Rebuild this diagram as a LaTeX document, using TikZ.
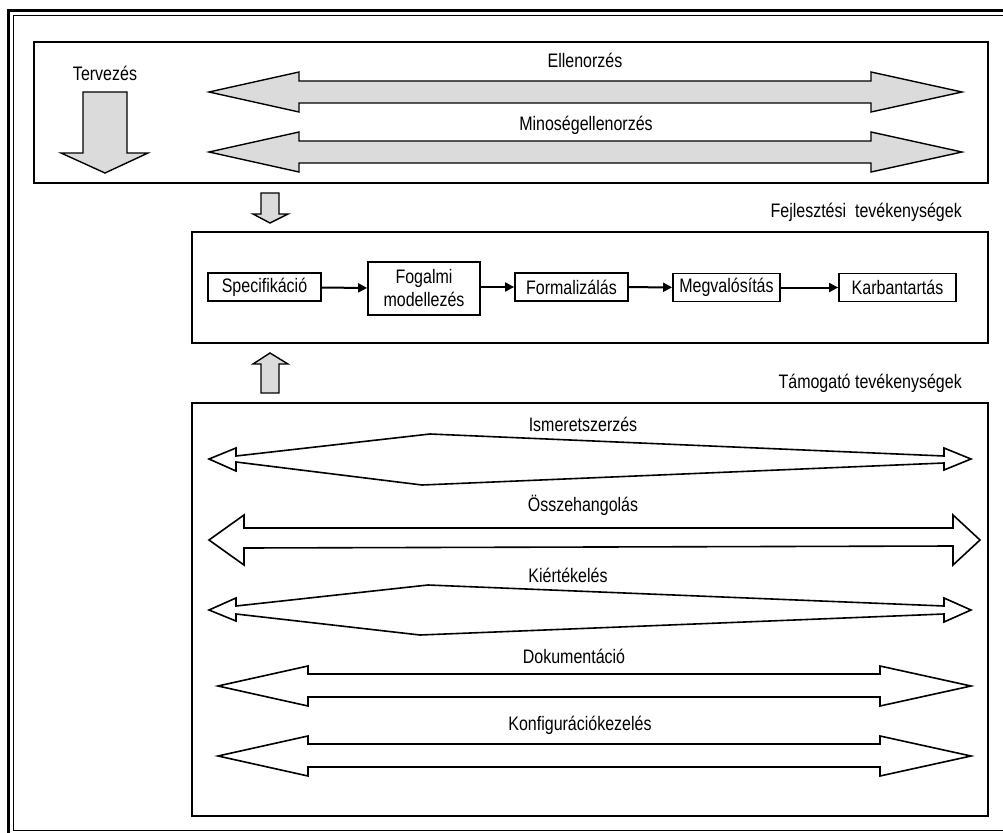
\documentclass[tikz,border=0pt]{standalone}
\usepackage{fontspec}
\usepackage{graphicx}
\setmainfont{Liberation Sans}
\usetikzlibrary{arrows.meta}
\newcommand{\tx}[1]{\scalebox{1}[1.22]{#1}}
\tikzset{
  frame/.style={line width=1.8pt, draw=black},
  grayarrow/.style={draw=black, line width=1.4pt, fill=black!14, line join=miter},
  whitearrow/.style={draw=black, line width=1.6pt, fill=white, line join=miter},
  procbox/.style={draw=black, line width=1.8pt, fill=white, inner sep=0pt, align=center, font=\fontsize{16}{23}\selectfont},
  lbl/.style={inner sep=0pt, font=\fontsize{16}{18}\selectfont},
  flow/.style={draw=black, line width=2pt, -{Triangle[length=9pt,width=9pt]}}
}
\begin{document}
\begin{tikzpicture}[x=1pt,y=-1pt]
\useasboundingbox (0,0) rectangle (1003,832);
% outer double frame (cut off at right and bottom)
\begin{scope}
\clip (0,0) rectangle (1003,832);
\draw[line width=3pt] (8.5,11) rectangle (1030,850);
\draw[line width=1.5pt] (13.5,15.5) rectangle (1020,830.5);
\end{scope}
% top box
\draw[frame] (34,42) rectangle (988,183);
\node[lbl] (terv) at (105,73) {\tx{Tervezés}};
\draw[grayarrow] (83,92) -- (127,92) -- (127,153) -- (148,153) -- (105,173) -- (61,153) -- (83,153) -- cycle;
\draw[grayarrow] (209,92) -- (299,72) -- (299,81) -- (871,81) -- (871,72) -- (962,92) -- (871,112) -- (871,103) -- (299,103) -- (299,112) -- cycle;
\draw[grayarrow] (209,152) -- (299,132) -- (299,141) -- (871,141) -- (871,132) -- (962,152) -- (871,172) -- (871,163) -- (299,163) -- (299,172) -- cycle;
\node[lbl] (ell) at (585,60) {\tx{Ellenorzés}};
\node[lbl] (min) at (586,125) {\tx{Minoségellenorzés}};
% small arrows
\draw[grayarrow] (261,193) -- (279,193) -- (279,214) -- (288,214) -- (270,223) -- (253,214) -- (261,214) -- cycle;
\draw[grayarrow] (261,393) -- (279,393) -- (279,364) -- (288,364) -- (270,353) -- (253,364) -- (261,364) -- cycle;
% middle box
\node[lbl, anchor=east] (fejl) at (962,212) {\tx{Fejlesztési\ \ tevékenységek}};
\draw[frame] (192,232) rectangle (988,343);
\node[procbox, minimum width=113pt, minimum height=28pt] (spec) at (264.5,287) {\tx{Specifikáció}};
\node[procbox, minimum width=112pt, minimum height=53pt] (fog) at (424,288.5) {\tx{Fogalmi}\\\tx{modellezés}};
\node[procbox, minimum width=113pt, minimum height=28pt] (form) at (571.5,287) {\tx{Formalizálás}};
\node[procbox, minimum width=107pt, minimum height=28pt] (megv) at (726.5,287.5) {\tx{Megvalósítás}};
\node[procbox, minimum width=117pt, minimum height=28pt] (karb) at (897.5,287.5) {\tx{Karbantartás}};
\draw[flow] (spec) -- (fog);
\draw[flow] (fog.east |- form) -- (form);
\draw[flow] (form) -- (megv);
\draw[flow] (megv) -- (karb);
% bottom box
\node[lbl, anchor=east] (tam) at (962,383) {\tx{Támogató tevékenységek}};
\draw[frame] (192,403) rectangle (988,816);
\draw[whitearrow] (209,459) -- (236,448) -- (236,456) -- (430,434) -- (944,456) -- (944,448) -- (971,459) -- (944,470) -- (944,463) -- (422,485) -- (236,462) -- (236,471) -- cycle;
\node[lbl] (ism) at (583,424) {\tx{Ismeretszerzés}};
\draw[whitearrow] (209,540) -- (244,515) -- (244,528) -- (953,528) -- (953,515) -- (980,540) -- (953,565) -- (953,546) -- (244,548) -- (244,565) -- cycle;
\node[lbl] (ossz) at (583,505) {\tx{Összehangolás}};
\draw[whitearrow] (209,610) -- (236,598) -- (236,606) -- (428,585) -- (944,606) -- (944,598) -- (971,610) -- (944,622) -- (944,614) -- (420,635) -- (236,614) -- (236,621) -- cycle;
\node[lbl] (kiert) at (568,575) {\tx{Kiértékelés}};
\draw[whitearrow] (218,686) -- (308,666) -- (308,674) -- (880,674) -- (880,666) -- (971,686) -- (880,706) -- (880,697) -- (308,697) -- (308,706) -- cycle;
\node[lbl] (dok) at (574,656) {\tx{Dokumentáció}};
\draw[whitearrow] (218,756) -- (308,736) -- (308,744) -- (880,744) -- (880,736) -- (971,756) -- (880,776) -- (880,767) -- (308,767) -- (308,776) -- cycle;
\node[lbl] (konf) at (580,725) {\tx{Konfigurációkezelés}};
\end{tikzpicture}
\end{document}
